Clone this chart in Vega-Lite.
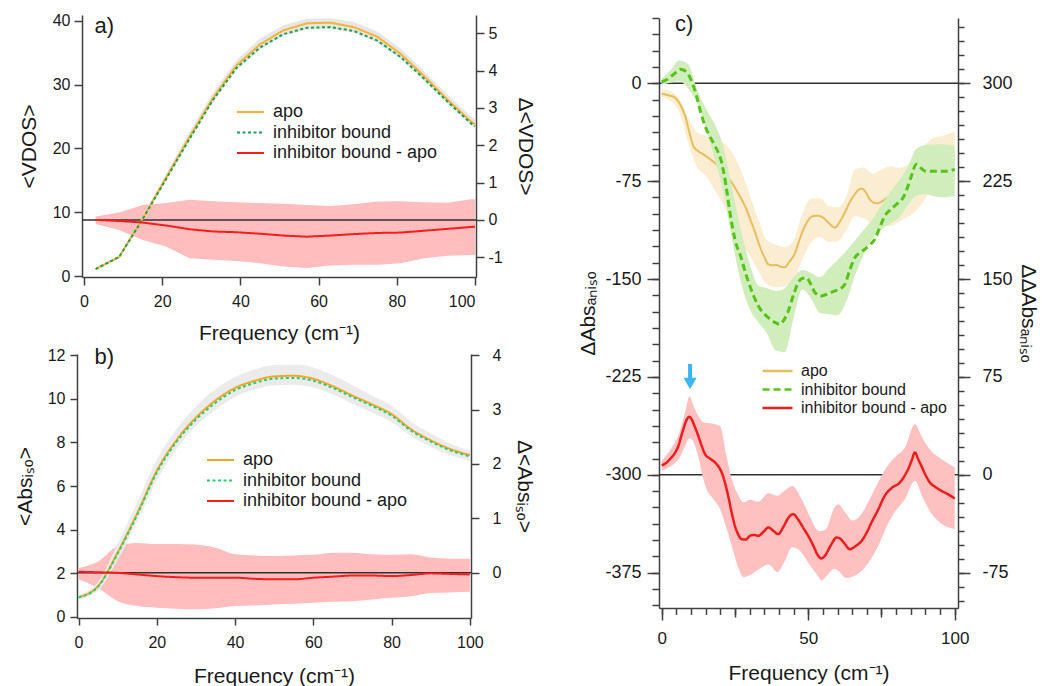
{
"$schema": "https://vega.github.io/schema/vega-lite/v6.json",
"padding": {"left": 14, "top": 12, "right": 4, "bottom": 0},
"spacing": 41,
"config": {
  "font": "Liberation Sans",
  "view": {"stroke": null},
  "locale": {"number": {"decimal": ".", "thousands": ",", "grouping": [3], "currency": ["$", ""], "minus": "-"}},
  "axis": {"domainColor": "#404040", "domainWidth": 1.5, "tickColor": "#404040", "tickWidth": 1.5, "labelColor": "#1a1a1a", "titleColor": "#1a1a1a", "titleFontWeight": "normal", "grid": false, "labelFont": "Liberation Sans", "titleFont": "Liberation Sans"},
  "legend": {"labelFont": "Liberation Sans", "labelColor": "#1a1a1a", "labelLimit": 400}
},
"datasets": {
  "a_lines": [
    {"series":"apo","x":3,"y":1.1},{"series":"apo","x":9,"y":3.0},{"series":"apo","x":15,"y":9.0},{"series":"apo","x":21,"y":15.4},{"series":"apo","x":27,"y":21.8},{"series":"apo","x":33,"y":27.9},{"series":"apo","x":39,"y":33.0},{"series":"apo","x":45,"y":36.3},{"series":"apo","x":51,"y":38.5},{"series":"apo","x":57,"y":39.6},{"series":"apo","x":63,"y":39.7},{"series":"apo","x":69,"y":39.0},{"series":"apo","x":75,"y":37.5},{"series":"apo","x":81,"y":34.8},{"series":"apo","x":87,"y":31.3},{"series":"apo","x":93,"y":27.6},{"series":"apo","x":99,"y":24.2},{"series":"apo","x":100,"y":23.8},
    {"series":"inhibitor bound","x":3,"y":1.1},{"series":"inhibitor bound","x":9,"y":3.0},{"series":"inhibitor bound","x":15,"y":8.9},{"series":"inhibitor bound","x":21,"y":15.2},{"series":"inhibitor bound","x":27,"y":21.5},{"series":"inhibitor bound","x":33,"y":27.6},{"series":"inhibitor bound","x":39,"y":32.6},{"series":"inhibitor bound","x":45,"y":35.8},{"series":"inhibitor bound","x":51,"y":37.9},{"series":"inhibitor bound","x":57,"y":38.9},{"series":"inhibitor bound","x":63,"y":39.0},{"series":"inhibitor bound","x":69,"y":38.4},{"series":"inhibitor bound","x":75,"y":36.9},{"series":"inhibitor bound","x":81,"y":34.3},{"series":"inhibitor bound","x":87,"y":30.9},{"series":"inhibitor bound","x":93,"y":27.3},{"series":"inhibitor bound","x":99,"y":23.9},{"series":"inhibitor bound","x":100,"y":23.5}
  ],
  "a_band": [
    {"x":3,"lo":0.95,"hi":1.25},{"x":9,"lo":2.8,"hi":3.2},{"x":15,"lo":8.6,"hi":9.4},{"x":21,"lo":14.9,"hi":16.0},{"x":27,"lo":21.2,"hi":22.6},{"x":33,"lo":27.2,"hi":28.7},{"x":39,"lo":32.3,"hi":33.8},{"x":45,"lo":35.5,"hi":37.2},{"x":51,"lo":37.6,"hi":39.3},{"x":57,"lo":38.6,"hi":40.3},{"x":63,"lo":38.7,"hi":40.4},{"x":69,"lo":38.1,"hi":39.8},{"x":75,"lo":36.6,"hi":38.3},{"x":81,"lo":34.0,"hi":35.6},{"x":87,"lo":30.6,"hi":32.1},{"x":93,"lo":27.0,"hi":28.4},{"x":99,"lo":23.6,"hi":25.0},{"x":100,"lo":23.2,"hi":24.6}
  ],
  "a_diff": [
    {"series":"inhibitor bound - apo","x":3,"y":0.0,"lo":-0.11,"hi":0.09},{"series":"inhibitor bound - apo","x":9,"y":-0.03,"lo":-0.27,"hi":0.2},{"series":"inhibitor bound - apo","x":15,"y":-0.07,"lo":-0.54,"hi":0.4},{"series":"inhibitor bound - apo","x":21,"y":-0.15,"lo":-0.71,"hi":0.45},{"series":"inhibitor bound - apo","x":27,"y":-0.25,"lo":-1.03,"hi":0.54},{"series":"inhibitor bound - apo","x":33,"y":-0.31,"lo":-1.07,"hi":0.5},{"series":"inhibitor bound - apo","x":39,"y":-0.33,"lo":-1.1,"hi":0.47},{"series":"inhibitor bound - apo","x":45,"y":-0.37,"lo":-1.16,"hi":0.45},{"series":"inhibitor bound - apo","x":51,"y":-0.42,"lo":-1.25,"hi":0.43},{"series":"inhibitor bound - apo","x":57,"y":-0.45,"lo":-1.29,"hi":0.4},{"series":"inhibitor bound - apo","x":63,"y":-0.42,"lo":-1.22,"hi":0.37},{"series":"inhibitor bound - apo","x":69,"y":-0.38,"lo":-1.2,"hi":0.42},{"series":"inhibitor bound - apo","x":75,"y":-0.35,"lo":-1.2,"hi":0.49},{"series":"inhibitor bound - apo","x":81,"y":-0.34,"lo":-1.16,"hi":0.5},{"series":"inhibitor bound - apo","x":87,"y":-0.29,"lo":-1.03,"hi":0.47},{"series":"inhibitor bound - apo","x":93,"y":-0.24,"lo":-0.96,"hi":0.46},{"series":"inhibitor bound - apo","x":99,"y":-0.19,"lo":-0.94,"hi":0.55},{"series":"inhibitor bound - apo","x":100,"y":-0.18,"lo":-0.94,"hi":0.55}
  ],
  "b_lines": [
    {"series":"apo","x":0,"y":0.90},{"series":"apo","x":5,"y":1.41},{"series":"apo","x":10,"y":2.95},{"series":"apo","x":15,"y":4.75},{"series":"apo","x":20,"y":6.70},{"series":"apo","x":25,"y":8.10},{"series":"apo","x":30,"y":9.14},{"series":"apo","x":35,"y":9.93},{"series":"apo","x":40,"y":10.50},{"series":"apo","x":45,"y":10.83},{"series":"apo","x":50,"y":11.03},{"series":"apo","x":55,"y":11.06},{"series":"apo","x":60,"y":10.92},{"series":"apo","x":65,"y":10.58},{"series":"apo","x":70,"y":10.15},{"series":"apo","x":75,"y":9.75},{"series":"apo","x":80,"y":9.30},{"series":"apo","x":85,"y":8.60},{"series":"apo","x":90,"y":8.10},{"series":"apo","x":95,"y":7.70},{"series":"apo","x":100,"y":7.42},
    {"series":"inhibitor bound","x":0,"y":0.88},{"series":"inhibitor bound","x":5,"y":1.38},{"series":"inhibitor bound","x":10,"y":2.90},{"series":"inhibitor bound","x":15,"y":4.68},{"series":"inhibitor bound","x":20,"y":6.62},{"series":"inhibitor bound","x":25,"y":8.02},{"series":"inhibitor bound","x":30,"y":9.05},{"series":"inhibitor bound","x":35,"y":9.82},{"series":"inhibitor bound","x":40,"y":10.40},{"series":"inhibitor bound","x":45,"y":10.73},{"series":"inhibitor bound","x":50,"y":10.93},{"series":"inhibitor bound","x":55,"y":10.96},{"series":"inhibitor bound","x":60,"y":10.83},{"series":"inhibitor bound","x":65,"y":10.50},{"series":"inhibitor bound","x":70,"y":10.08},{"series":"inhibitor bound","x":75,"y":9.68},{"series":"inhibitor bound","x":80,"y":9.23},{"series":"inhibitor bound","x":85,"y":8.54},{"series":"inhibitor bound","x":90,"y":8.04},{"series":"inhibitor bound","x":95,"y":7.64},{"series":"inhibitor bound","x":100,"y":7.36}
  ],
  "b_band": [
    {"x":0,"lo":0.78,"hi":1.0},{"x":5,"lo":1.2,"hi":1.6},{"x":10,"lo":2.6,"hi":3.35},{"x":15,"lo":4.35,"hi":5.25},{"x":20,"lo":6.25,"hi":7.2},{"x":25,"lo":7.7,"hi":8.6},{"x":30,"lo":8.75,"hi":9.65},{"x":35,"lo":9.5,"hi":10.45},{"x":40,"lo":10.1,"hi":11.0},{"x":45,"lo":10.43,"hi":11.35},{"x":50,"lo":10.62,"hi":11.55},{"x":55,"lo":10.65,"hi":11.58},{"x":60,"lo":10.52,"hi":11.44},{"x":65,"lo":10.2,"hi":11.08},{"x":70,"lo":9.78,"hi":10.62},{"x":75,"lo":9.38,"hi":10.15},{"x":80,"lo":8.95,"hi":9.68},{"x":85,"lo":8.28,"hi":8.95},{"x":90,"lo":7.8,"hi":8.42},{"x":95,"lo":7.42,"hi":7.95},{"x":100,"lo":7.15,"hi":7.62}
  ],
  "b_diff": [
    {"series":"inhibitor bound - apo","x":0,"y":0.02,"lo":-0.12,"hi":0.09},{"series":"inhibitor bound - apo","x":5,"y":0.01,"lo":-0.28,"hi":0.21},{"series":"inhibitor bound - apo","x":10,"y":0.0,"lo":-0.52,"hi":0.49},{"series":"inhibitor bound - apo","x":15,"y":-0.03,"lo":-0.61,"hi":0.55},{"series":"inhibitor bound - apo","x":20,"y":-0.06,"lo":-0.64,"hi":0.53},{"series":"inhibitor bound - apo","x":25,"y":-0.08,"lo":-0.66,"hi":0.53},{"series":"inhibitor bound - apo","x":30,"y":-0.09,"lo":-0.67,"hi":0.52},{"series":"inhibitor bound - apo","x":35,"y":-0.09,"lo":-0.65,"hi":0.46},{"series":"inhibitor bound - apo","x":40,"y":-0.09,"lo":-0.61,"hi":0.34},{"series":"inhibitor bound - apo","x":45,"y":-0.11,"lo":-0.6,"hi":0.32},{"series":"inhibitor bound - apo","x":50,"y":-0.12,"lo":-0.58,"hi":0.31},{"series":"inhibitor bound - apo","x":55,"y":-0.12,"lo":-0.57,"hi":0.32},{"series":"inhibitor bound - apo","x":60,"y":-0.09,"lo":-0.55,"hi":0.33},{"series":"inhibitor bound - apo","x":65,"y":-0.07,"lo":-0.53,"hi":0.37},{"series":"inhibitor bound - apo","x":70,"y":-0.05,"lo":-0.52,"hi":0.37},{"series":"inhibitor bound - apo","x":75,"y":-0.05,"lo":-0.49,"hi":0.34},{"series":"inhibitor bound - apo","x":80,"y":-0.06,"lo":-0.46,"hi":0.33},{"series":"inhibitor bound - apo","x":85,"y":-0.04,"lo":-0.43,"hi":0.34},{"series":"inhibitor bound - apo","x":90,"y":-0.01,"lo":-0.37,"hi":0.28},{"series":"inhibitor bound - apo","x":95,"y":-0.02,"lo":-0.36,"hi":0.26},{"series":"inhibitor bound - apo","x":100,"y":-0.03,"lo":-0.35,"hi":0.26}
  ],
  "c_apo": [
    {"series":"apo","x":0,"y":-8},{"series":"apo","x":2,"y":-9},{"series":"apo","x":4.5,"y":-11},{"series":"apo","x":6.5,"y":-17},{"series":"apo","x":8,"y":-25},{"series":"apo","x":9.5,"y":-38},{"series":"apo","x":10.8,"y":-48},{"series":"apo","x":12.5,"y":-52},{"series":"apo","x":14.2,"y":-54.4},{"series":"apo","x":17,"y":-59},{"series":"apo","x":19.3,"y":-63.3},{"series":"apo","x":21.5,"y":-69},{"series":"apo","x":23.9,"y":-76},{"series":"apo","x":25.5,"y":-82},{"series":"apo","x":27.3,"y":-89},{"series":"apo","x":29,"y":-97},{"series":"apo","x":30.7,"y":-107},{"series":"apo","x":32,"y":-115},{"series":"apo","x":33.5,"y":-125},{"series":"apo","x":35,"y":-133},{"series":"apo","x":36.4,"y":-138.7},{"series":"apo","x":38,"y":-139.5},{"series":"apo","x":39.2,"y":-139.2},{"series":"apo","x":40.6,"y":-140.5},{"series":"apo","x":42,"y":-141},{"series":"apo","x":43.5,"y":-137},{"series":"apo","x":45.5,"y":-130},{"series":"apo","x":47,"y":-120},{"series":"apo","x":48.9,"y":-109.3},{"series":"apo","x":50.3,"y":-104},{"series":"apo","x":51.7,"y":-101.7},{"series":"apo","x":53.5,"y":-101.5},{"series":"apo","x":55.1,"y":-103},{"series":"apo","x":57,"y":-107},{"series":"apo","x":59.1,"y":-110.6},{"series":"apo","x":60.8,"y":-106},{"series":"apo","x":62.5,"y":-99},{"series":"apo","x":64.2,"y":-91},{"series":"apo","x":65.9,"y":-85},{"series":"apo","x":67,"y":-82},{"series":"apo","x":68.2,"y":-80.7},{"series":"apo","x":69.5,"y":-83},{"series":"apo","x":71,"y":-88.9},{"series":"apo","x":73.3,"y":-92},{"series":"apo","x":75.5,"y":-90},{"series":"apo","x":77.8,"y":-86.3},{"series":"apo","x":80,"y":-85},{"series":"apo","x":82.4,"y":-85},{"series":"apo","x":85,"y":-82},{"series":"apo","x":87.5,"y":-77},{"series":"apo","x":90,"y":-70},{"series":"apo","x":95,"y":-62},{"series":"apo","x":100,"y":-58}
  ],
  "c_inh": [
    {"series":"inhibitor bound","x":0,"y":1},{"series":"inhibitor bound","x":1.5,"y":2.5},{"series":"inhibitor bound","x":3.4,"y":5.6},{"series":"inhibitor bound","x":5,"y":8.5},{"series":"inhibitor bound","x":6.25,"y":10.7},{"series":"inhibitor bound","x":7.5,"y":10},{"series":"inhibitor bound","x":9.1,"y":6.9},{"series":"inhibitor bound","x":10.5,"y":0},{"series":"inhibitor bound","x":11.9,"y":-9.7},{"series":"inhibitor bound","x":13.3,"y":-22},{"series":"inhibitor bound","x":14.8,"y":-32.7},{"series":"inhibitor bound","x":16.5,"y":-41},{"series":"inhibitor bound","x":18.2,"y":-48},{"series":"inhibitor bound","x":19.5,"y":-54},{"series":"inhibitor bound","x":20.5,"y":-61},{"series":"inhibitor bound","x":22,"y":-79},{"series":"inhibitor bound","x":23.3,"y":-99},{"series":"inhibitor bound","x":25,"y":-119.5},{"series":"inhibitor bound","x":27.3,"y":-134.9},{"series":"inhibitor bound","x":28.7,"y":-146},{"series":"inhibitor bound","x":30.1,"y":-155.3},{"series":"inhibitor bound","x":33,"y":-170.6},{"series":"inhibitor bound","x":36.4,"y":-179.6},{"series":"inhibitor bound","x":38.5,"y":-183},{"series":"inhibitor bound","x":40.3,"y":-184.7},{"series":"inhibitor bound","x":41.8,"y":-181},{"series":"inhibitor bound","x":43.2,"y":-174.5},{"series":"inhibitor bound","x":45,"y":-162},{"series":"inhibitor bound","x":46.6,"y":-152.7},{"series":"inhibitor bound","x":48,"y":-149.5},{"series":"inhibitor bound","x":49.4,"y":-149},{"series":"inhibitor bound","x":51,"y":-154.5},{"series":"inhibitor bound","x":52.3,"y":-160.4},{"series":"inhibitor bound","x":54.5,"y":-163},{"series":"inhibitor bound","x":57,"y":-161},{"series":"inhibitor bound","x":59.1,"y":-159.1},{"series":"inhibitor bound","x":61,"y":-157.5},{"series":"inhibitor bound","x":62.5,"y":-154},{"series":"inhibitor bound","x":64.2,"y":-143},{"series":"inhibitor bound","x":65.9,"y":-133.6},{"series":"inhibitor bound","x":67.5,"y":-130},{"series":"inhibitor bound","x":69.3,"y":-127.2},{"series":"inhibitor bound","x":71,"y":-124},{"series":"inhibitor bound","x":72.7,"y":-119.5},{"series":"inhibitor bound","x":74.5,"y":-110},{"series":"inhibitor bound","x":76.1,"y":-101.7},{"series":"inhibitor bound","x":78,"y":-97},{"series":"inhibitor bound","x":79.5,"y":-94},{"series":"inhibitor bound","x":81,"y":-91},{"series":"inhibitor bound","x":82.4,"y":-87.6},{"series":"inhibitor bound","x":84,"y":-79},{"series":"inhibitor bound","x":85.2,"y":-71},{"series":"inhibitor bound","x":86.9,"y":-62},{"series":"inhibitor bound","x":88.5,"y":-65},{"series":"inhibitor bound","x":89.8,"y":-67.2},{"series":"inhibitor bound","x":93.2,"y":-67.5},{"series":"inhibitor bound","x":96.6,"y":-67.5},{"series":"inhibitor bound","x":100,"y":-66}
  ],
  "c_diff": [
    {"series":"inhibitor bound - apo","x":0,"y":7.4},{"series":"inhibitor bound - apo","x":1.5,"y":9},{"series":"inhibitor bound - apo","x":2.8,"y":12},{"series":"inhibitor bound - apo","x":4.3,"y":16},{"series":"inhibitor bound - apo","x":5.7,"y":22.2},{"series":"inhibitor bound - apo","x":7,"y":32},{"series":"inhibitor bound - apo","x":8.5,"y":42},{"series":"inhibitor bound - apo","x":9.4,"y":44.5},{"series":"inhibitor bound - apo","x":10.2,"y":42.7},{"series":"inhibitor bound - apo","x":11.3,"y":37},{"series":"inhibitor bound - apo","x":12.5,"y":29.9},{"series":"inhibitor bound - apo","x":13.7,"y":22},{"series":"inhibitor bound - apo","x":14.8,"y":15.9},{"series":"inhibitor bound - apo","x":16.5,"y":12.5},{"series":"inhibitor bound - apo","x":18.2,"y":9.5},{"series":"inhibitor bound - apo","x":19.5,"y":6},{"series":"inhibitor bound - apo","x":20.5,"y":1.8},{"series":"inhibitor bound - apo","x":21.6,"y":-6},{"series":"inhibitor bound - apo","x":22.7,"y":-16.1},{"series":"inhibitor bound - apo","x":23.9,"y":-29},{"series":"inhibitor bound - apo","x":25,"y":-39},{"series":"inhibitor bound - apo","x":26.2,"y":-46},{"series":"inhibitor bound - apo","x":27.3,"y":-49.3},{"series":"inhibitor bound - apo","x":28.7,"y":-49.5},{"series":"inhibitor bound - apo","x":30.1,"y":-46.7},{"series":"inhibitor bound - apo","x":31.5,"y":-46},{"series":"inhibitor bound - apo","x":33,"y":-46.7},{"series":"inhibitor bound - apo","x":34.8,"y":-43.5},{"series":"inhibitor bound - apo","x":36.4,"y":-40.3},{"series":"inhibitor bound - apo","x":38.2,"y":-43},{"series":"inhibitor bound - apo","x":39.8,"y":-45.4},{"series":"inhibitor bound - apo","x":41.5,"y":-40},{"series":"inhibitor bound - apo","x":43.2,"y":-33},{"series":"inhibitor bound - apo","x":44.9,"y":-30.1},{"series":"inhibitor bound - apo","x":46.5,"y":-34},{"series":"inhibitor bound - apo","x":48.3,"y":-40.5},{"series":"inhibitor bound - apo","x":50,"y":-46.7},{"series":"inhibitor bound - apo","x":51.7,"y":-54},{"series":"inhibitor bound - apo","x":53.4,"y":-62},{"series":"inhibitor bound - apo","x":54.5,"y":-64},{"series":"inhibitor bound - apo","x":55.7,"y":-62},{"series":"inhibitor bound - apo","x":57.7,"y":-54},{"series":"inhibitor bound - apo","x":59.7,"y":-48},{"series":"inhibitor bound - apo","x":61,"y":-49},{"series":"inhibitor bound - apo","x":62.5,"y":-53},{"series":"inhibitor bound - apo","x":64.2,"y":-56.9},{"series":"inhibitor bound - apo","x":66.2,"y":-54.5},{"series":"inhibitor bound - apo","x":68.2,"y":-50.6},{"series":"inhibitor bound - apo","x":70,"y":-44},{"series":"inhibitor bound - apo","x":71.6,"y":-36.5},{"series":"inhibitor bound - apo","x":74,"y":-26},{"series":"inhibitor bound - apo","x":76.1,"y":-16.1},{"series":"inhibitor bound - apo","x":78.5,"y":-10},{"series":"inhibitor bound - apo","x":81.3,"y":-5.8},{"series":"inhibitor bound - apo","x":82.8,"y":-1},{"series":"inhibitor bound - apo","x":84.1,"y":4.4},{"series":"inhibitor bound - apo","x":85.3,"y":11},{"series":"inhibitor bound - apo","x":86.4,"y":17.2},{"series":"inhibitor bound - apo","x":87.5,"y":12},{"series":"inhibitor bound - apo","x":88.6,"y":6.9},{"series":"inhibitor bound - apo","x":90,"y":0},{"series":"inhibitor bound - apo","x":91.5,"y":-5.8},{"series":"inhibitor bound - apo","x":93.5,"y":-9.5},{"series":"inhibitor bound - apo","x":95.5,"y":-12.3},{"series":"inhibitor bound - apo","x":97.8,"y":-15},{"series":"inhibitor bound - apo","x":100,"y":-18.1}
  ],
  "c_apoband": [
    {"x":0,"lo":-10.8,"hi":-4.5},{"x":3,"lo":-13.5,"hi":-5.9},{"x":6,"lo":-22,"hi":-12},{"x":9,"lo":-45,"hi":-26},{"x":12,"lo":-64,"hi":-37.5},{"x":15,"lo":-70.7,"hi":-40.2},{"x":18,"lo":-81.5,"hi":-42.5},{"x":21,"lo":-92.5,"hi":-45.5},{"x":24,"lo":-107.5,"hi":-53},{"x":27,"lo":-122.5,"hi":-66.5},{"x":30,"lo":-131.5,"hi":-85},{"x":33,"lo":-144,"hi":-104.5},{"x":36,"lo":-154.2,"hi":-120.4},{"x":39,"lo":-156.3,"hi":-123.7},{"x":42,"lo":-155.3,"hi":-125.3},{"x":45,"lo":-151,"hi":-120.5},{"x":48,"lo":-135,"hi":-100},{"x":51,"lo":-122,"hi":-88.5},{"x":54,"lo":-118,"hi":-88},{"x":57,"lo":-121.5,"hi":-94},{"x":60,"lo":-121,"hi":-95},{"x":63,"lo":-112.5,"hi":-87},{"x":66,"lo":-101.6,"hi":-65.8},{"x":69,"lo":-103.5,"hi":-64.6},{"x":72,"lo":-108,"hi":-69.3},{"x":75,"lo":-109.3,"hi":-66},{"x":78,"lo":-109.3,"hi":-63.6},{"x":81,"lo":-106,"hi":-64.8},{"x":84,"lo":-102.3,"hi":-62.5},{"x":87,"lo":-97.4,"hi":-52.3},{"x":90,"lo":-88.5,"hi":-46.6},{"x":93,"lo":-79,"hi":-41.3},{"x":96,"lo":-78.7,"hi":-40.2},{"x":100,"lo":-73.6,"hi":-36.5}
  ],
  "c_inhband": [
    {"x":0,"lo":-1.5,"hi":3.5},{"x":3,"lo":0.3,"hi":10},{"x":6,"lo":1.5,"hi":17.5},{"x":9,"lo":-4,"hi":14.8},{"x":12,"lo":-15,"hi":-4},{"x":15,"lo":-34,"hi":-19},{"x":18,"lo":-57,"hi":-31},{"x":21,"lo":-83,"hi":-48},{"x":24,"lo":-119.5,"hi":-80},{"x":27,"lo":-152,"hi":-112},{"x":30,"lo":-173,"hi":-138},{"x":33,"lo":-183,"hi":-155},{"x":36,"lo":-192,"hi":-157},{"x":39,"lo":-205,"hi":-159},{"x":42,"lo":-206,"hi":-157},{"x":45,"lo":-180,"hi":-148.7},{"x":48,"lo":-158,"hi":-143},{"x":51,"lo":-165,"hi":-145.3},{"x":54,"lo":-176,"hi":-148.7},{"x":57,"lo":-177,"hi":-142},{"x":60,"lo":-177.8,"hi":-135.5},{"x":63,"lo":-167,"hi":-128.5},{"x":66,"lo":-147,"hi":-120.3},{"x":69,"lo":-131,"hi":-112},{"x":72,"lo":-118.5,"hi":-103.7},{"x":75,"lo":-112,"hi":-93},{"x":78,"lo":-107.4,"hi":-83.3},{"x":81,"lo":-103,"hi":-74.5},{"x":84,"lo":-93.5,"hi":-63.8},{"x":87,"lo":-86,"hi":-50},{"x":90,"lo":-85,"hi":-47.3},{"x":93,"lo":-86.6,"hi":-46.7},{"x":96,"lo":-87.4,"hi":-46.7},{"x":100,"lo":-86.3,"hi":-48}
  ],
  "c_diffband": [
    {"x":0,"lo":3.1,"hi":10.7},{"x":3,"lo":6.5,"hi":19.5},{"x":6,"lo":13,"hi":32},{"x":8,"lo":22,"hi":48},{"x":9.5,"lo":28,"hi":60},{"x":11,"lo":24.5,"hi":52},{"x":12.5,"lo":14,"hi":45.2},{"x":14,"lo":-1,"hi":40.5},{"x":15,"lo":-9,"hi":40},{"x":18,"lo":-19.5,"hi":39},{"x":20,"lo":-26.5,"hi":37},{"x":22,"lo":-40,"hi":16},{"x":24,"lo":-55,"hi":-4},{"x":26,"lo":-70,"hi":-15},{"x":28,"lo":-78.3,"hi":-21},{"x":30,"lo":-77,"hi":-19},{"x":33,"lo":-72.5,"hi":-20.5},{"x":36.5,"lo":-68.7,"hi":-14},{"x":39.5,"lo":-74.5,"hi":-16},{"x":42,"lo":-66,"hi":-12},{"x":44.5,"lo":-55.5,"hi":-8.5},{"x":47.5,"lo":-59,"hi":-17.5},{"x":50,"lo":-67.2,"hi":-29},{"x":53.5,"lo":-78,"hi":-42.8},{"x":54.5,"lo":-81,"hi":-43},{"x":56,"lo":-78,"hi":-41.7},{"x":59,"lo":-72,"hi":-25},{"x":60.2,"lo":-73.5,"hi":-22.5},{"x":63,"lo":-79,"hi":-30},{"x":65,"lo":-78,"hi":-35},{"x":68,"lo":-74,"hi":-30.5},{"x":71,"lo":-66,"hi":-18.5},{"x":74,"lo":-54,"hi":-5},{"x":77,"lo":-38.5,"hi":6.8},{"x":80,"lo":-27,"hi":14.5},{"x":83,"lo":-18.6,"hi":21},{"x":86.4,"lo":-4.6,"hi":38.8},{"x":89,"lo":-17,"hi":28},{"x":92,"lo":-29.5,"hi":18},{"x":95,"lo":-36.6,"hi":12.8},{"x":100,"lo":-41.6,"hi":5.7}
  ]
},
"resolve": {"scale": {"color": "independent", "strokeDash": "independent"}},
"hconcat": [
  {
    "spacing": 2,
    "resolve": {"scale": {"color": "independent", "strokeDash": "independent"}},
    "vconcat": [
      {
        "width": 399, "height": 262,
        "resolve": {"scale": {"y": "independent"}, "axis": {"x": "independent"}},
        "layer": [
          {"data": {"name": "a_diff"}, "mark": {"type": "area", "color": "#FFBDBD", "opacity": 1},
           "encoding": {
             "x": {"field": "x", "type": "quantitative", "scale": {"domain": [-0.5, 100.25], "range": [5, 399], "nice": false, "zero": false},
                   "axis": {"orient": "bottom", "values": [0,20,40,60,80,100], "tickSize": 8, "labelFontSize": 16, "labelPadding": 8, "title": "Frequency (cm⁻¹)", "titleFontSize": 21, "titlePadding": 13}},
             "y": {"field": "lo", "type": "quantitative", "scale": {"domain": [-1.53, 5.49], "nice": false, "zero": false},
                   "axis": {"orient": "right", "values": [-1,0,1,2,3,4,5], "tickSize": 8, "labelFontSize": 16, "labelPadding": 4, "title": "Δ<VDOS>", "titleFontSize": 21, "titlePadding": 12}},
             "y2": {"field": "hi"}}},
          {"data": {"name": "a_band"}, "mark": {"type": "area", "color": "#E6E6E6"},
           "encoding": {
             "x": {"field": "x", "type": "quantitative", "scale": {"domain": [-0.5, 100.25], "range": [5, 399], "nice": false, "zero": false}, "axis": null},
             "y": {"field": "lo", "type": "quantitative", "scale": {"domain": [-0.15, 40.9], "nice": false, "zero": false},
                   "axis": {"orient": "left", "offset": -5, "values": [0,10,20,30,40], "tickSize": 8, "labelFontSize": 16, "labelPadding": 4, "title": "<VDOS>", "titleFontSize": 21, "titlePadding": 13}},
             "y2": {"field": "hi"}}},
          {"data": {"values": [{"zero": 0}]}, "mark": {"type": "rule", "color": "#303030", "strokeWidth": 1.5},
           "encoding": {
             "x": {"datum": -0.5, "type": "quantitative", "scale": {"domain": [-0.5, 100.25], "range": [5, 399], "nice": false, "zero": false}, "axis": null},
             "x2": {"datum": 100.25},
             "y": {"field": "zero", "type": "quantitative", "scale": {"domain": [-1.53, 5.49], "nice": false, "zero": false}, "axis": null}}},
          {"data": {"name": "a_lines"}, "mark": {"type": "line", "strokeWidth": 2},
           "encoding": {
             "x": {"field": "x", "type": "quantitative", "scale": {"domain": [-0.5, 100.25], "range": [5, 399], "nice": false, "zero": false}, "axis": null},
             "y": {"field": "y", "type": "quantitative", "scale": {"domain": [-0.15, 40.9], "nice": false, "zero": false}, "axis": null},
             "color": {"field": "series", "type": "nominal", "scale": {"domain": ["apo", "inhibitor bound", "inhibitor bound - apo"], "range": ["#F9B233", "#1E9E50", "#F51C1C"]},
                       "legend": {"title": null, "orient": "none", "legendX": 159, "legendY": 88, "symbolType": "stroke", "symbolSize": 729, "symbolStrokeWidth": 2, "labelFontSize": 18, "labelOffset": 8, "clipHeight": 18, "rowPadding": 2.5, "padding": 0}},
             "strokeDash": {"field": "series", "type": "nominal", "scale": {"domain": ["apo", "inhibitor bound", "inhibitor bound - apo"], "range": [[1,0],[3,2.5],[1,0]]},
                       "legend": {"title": null, "orient": "none", "legendX": 159, "legendY": 88, "symbolType": "stroke", "symbolSize": 729, "symbolStrokeWidth": 2, "labelFontSize": 18, "labelOffset": 8, "clipHeight": 18, "rowPadding": 2.5, "padding": 0}}}},
          {"data": {"name": "a_diff"}, "mark": {"type": "line", "strokeWidth": 2},
           "encoding": {
             "x": {"field": "x", "type": "quantitative", "scale": {"domain": [-0.5, 100.25], "range": [5, 399], "nice": false, "zero": false}, "axis": null},
             "y": {"field": "y", "type": "quantitative", "scale": {"domain": [-1.53, 5.49], "nice": false, "zero": false}, "axis": null},
             "color": {"field": "series", "type": "nominal"},
             "strokeDash": {"field": "series", "type": "nominal"}}},
          {"data": {"values": [{"label": "a)", "x": 2.7, "y": 40.8}]}, "mark": {"type": "text", "fontSize": 22, "align": "left", "baseline": "top", "color": "#1a1a1a"},
           "encoding": {
             "x": {"field": "x", "type": "quantitative", "scale": {"domain": [-0.5, 100.25], "range": [5, 399], "nice": false, "zero": false}, "axis": null},
             "y": {"field": "y", "type": "quantitative", "scale": {"domain": [-0.15, 40.9], "nice": false, "zero": false}, "axis": null},
             "text": {"field": "label"}}}
        ]
      },
      {
        "width": 394, "height": 264,
        "resolve": {"scale": {"y": "independent"}, "axis": {"x": "independent"}},
        "layer": [
          {"data": {"name": "b_diff"}, "mark": {"type": "area", "color": "#FFBDBD", "interpolate": "monotone"},
           "encoding": {
             "x": {"field": "x", "type": "quantitative", "scale": {"domain": [-0.4, 100.3], "nice": false, "zero": false},
                   "axis": {"orient": "bottom", "values": [0,20,40,60,80,100], "tickSize": 7, "labelFontSize": 16, "labelPadding": 9, "title": "Frequency (cm⁻¹)", "titleFontSize": 21, "titlePadding": 15}},
             "y": {"field": "lo", "type": "quantitative", "scale": {"domain": [-0.83, 4.02], "nice": false, "zero": false},
                   "axis": {"orient": "right", "values": [0,1,2,3,4], "tickSize": 8, "labelFontSize": 16, "labelPadding": 13, "title": "Δ<Absᵢₛₒ>", "titleFontSize": 21, "titlePadding": 13}},
             "y2": {"field": "hi"}}},
          {"data": {"name": "b_band"}, "mark": {"type": "area", "color": "#EBEBEB", "interpolate": "monotone"},
           "encoding": {
             "x": {"field": "x", "type": "quantitative", "scale": {"domain": [-0.4, 100.3], "nice": false, "zero": false}, "axis": null},
             "y": {"field": "lo", "type": "quantitative", "scale": {"domain": [-0.06, 12.06], "nice": false, "zero": false},
                   "axis": {"orient": "left", "values": [0,2,4,6,8,10,12], "tickSize": 7, "labelFontSize": 16, "labelPadding": 5, "title": "<Absᵢₛₒ>", "titleFontSize": 21, "titlePadding": 12}},
             "y2": {"field": "hi"}}},
          {"data": {"values": [{"zero": 0}]}, "mark": {"type": "rule", "color": "#303030", "strokeWidth": 1.5},
           "encoding": {
             "x": {"datum": -0.4, "type": "quantitative", "scale": {"domain": [-0.4, 100.3], "nice": false, "zero": false}, "axis": null},
             "x2": {"datum": 100.3},
             "y": {"field": "zero", "type": "quantitative", "scale": {"domain": [-0.83, 4.02], "nice": false, "zero": false}, "axis": null}}},
          {"data": {"name": "b_lines"}, "mark": {"type": "line", "strokeWidth": 2, "interpolate": "monotone"},
           "encoding": {
             "x": {"field": "x", "type": "quantitative", "scale": {"domain": [-0.4, 100.3], "nice": false, "zero": false}, "axis": null},
             "y": {"field": "y", "type": "quantitative", "scale": {"domain": [-0.06, 12.06], "nice": false, "zero": false}, "axis": null},
             "color": {"field": "series", "type": "nominal", "scale": {"domain": ["apo", "inhibitor bound", "inhibitor bound - apo"], "range": ["#F5A623", "#2BCB78", "#F51C1C"]},
                       "legend": {"title": null, "orient": "none", "legendX": 129, "legendY": 97, "symbolType": "stroke", "symbolSize": 729, "symbolStrokeWidth": 2, "labelFontSize": 18, "labelOffset": 8, "clipHeight": 18, "rowPadding": 2.5, "padding": 0}},
             "strokeDash": {"field": "series", "type": "nominal", "scale": {"domain": ["apo", "inhibitor bound", "inhibitor bound - apo"], "range": [[1,0],[3,2.5],[1,0]]},
                       "legend": {"title": null, "orient": "none", "legendX": 129, "legendY": 97, "symbolType": "stroke", "symbolSize": 729, "symbolStrokeWidth": 2, "labelFontSize": 18, "labelOffset": 8, "clipHeight": 18, "rowPadding": 2.5, "padding": 0}}}},
          {"data": {"name": "b_diff"}, "mark": {"type": "line", "strokeWidth": 2, "interpolate": "monotone"},
           "encoding": {
             "x": {"field": "x", "type": "quantitative", "scale": {"domain": [-0.4, 100.3], "nice": false, "zero": false}, "axis": null},
             "y": {"field": "y", "type": "quantitative", "scale": {"domain": [-0.83, 4.02], "nice": false, "zero": false}, "axis": null},
             "color": {"field": "series", "type": "nominal"},
             "strokeDash": {"field": "series", "type": "nominal"}}},
          {"data": {"values": [{"label": "b)", "x": 4.1, "y": 12.4}]}, "mark": {"type": "text", "fontSize": 22, "align": "left", "baseline": "top", "color": "#1a1a1a"},
           "encoding": {
             "x": {"field": "x", "type": "quantitative", "scale": {"domain": [-0.4, 100.3], "nice": false, "zero": false}, "axis": null},
             "y": {"field": "y", "type": "quantitative", "scale": {"domain": [-0.06, 12.06], "nice": false, "zero": false}, "axis": null},
             "text": {"field": "label"}}}
        ]
      }
    ]
  },
  {
    "width": 299, "height": 593,
    "resolve": {"scale": {"y": "independent"}, "axis": {"x": "independent"}},
    "layer": [
      {"data": {"values": [{"zero": 0}]}, "mark": {"type": "rule", "color": "#303030", "strokeWidth": 1.5},
       "encoding": {
         "x": {"datum": -0.9, "type": "quantitative", "scale": {"domain": [-0.9, 101.1], "nice": false, "zero": false}, "axis": null},
         "x2": {"datum": 101.1},
         "y": {"field": "zero", "type": "quantitative", "scale": {"domain": [-402, 50], "range": [593, 3], "nice": false, "zero": false},
          "axis": {"orient": "left", "values": [-400,-387.5,-375,-362.5,-350,-337.5,-325,-312.5,-300,-287.5,-275,-262.5,-250,-237.5,-225,-212.5,-200,-187.5,-175,-162.5,-150,-137.5,-125,-112.5,-100,-87.5,-75,-62.5,-50,-37.5,-25,-12.5,0,12.5,25,37.5,50], "tickSize": 7, "labels": false, "domain": false, "title": null}}}},
      {"data": {"values": [{"zero": 0}]}, "mark": {"type": "rule", "color": "#303030", "strokeWidth": 1.5},
       "encoding": {
         "x": {"datum": -0.9, "type": "quantitative", "scale": {"domain": [-0.9, 101.1], "nice": false, "zero": false}, "axis": null},
         "x2": {"datum": 101.1},
         "y": {"field": "zero", "type": "quantitative", "scale": {"domain": [-102, 350], "range": [593, 3], "nice": false, "zero": false},
          "axis": {"orient": "right", "values": [-96.43,-85.71,-75,-64.29,-53.57,-42.86,-32.14,-21.43,-10.71,0,10.71,21.43,32.14,42.86,53.57,64.29,75,85.71,96.43,107.14,117.86,128.57,139.29,150,160.71,171.43,182.14,192.86,203.57,214.29,225,235.71,246.43,257.14,267.86,278.57,289.29,300,310.71,321.43,332.14,342.86], "tickSize": 6, "labels": false, "domain": false, "title": null}}}},
      {"data": {"name": "c_apoband"}, "mark": {"type": "area", "color": "#FBEDD2", "interpolate": "monotone"},
       "encoding": {
         "x": {"field": "x", "type": "quantitative", "scale": {"domain": [-0.9, 101.1], "nice": false, "zero": false},
               "axis": {"orient": "bottom", "values": [0,5,10,15,20,25,30,35,40,45,50,55,60,65,70,75,80,85,90,95,100], "tickSize": 6.5, "labels": false, "domain": false, "title": null}},
         "y": {"field": "lo", "type": "quantitative", "scale": {"domain": [-402, 50], "range": [593, 3], "nice": false, "zero": false},
               "axis": {"orient": "left", "values": [-375,-300,-225,-150,-75,0], "tickSize": 12, "labelFontSize": 18, "labelPadding": 6, "title": "ΔAbsₐₙᵢₛₒ", "titleFontSize": 21, "titlePadding": 6}},
         "y2": {"field": "hi"}}},
      {"data": {"name": "c_apo"}, "mark": {"type": "line", "strokeWidth": 2, "interpolate": "monotone"},
       "encoding": {
         "x": {"field": "x", "type": "quantitative", "scale": {"domain": [-0.9, 101.1], "nice": false, "zero": false},
               "axis": {"orient": "bottom", "values": [25,75], "tickSize": 9, "labels": false, "domain": false, "title": null}},
         "y": {"field": "y", "type": "quantitative", "scale": {"domain": [-402, 50], "range": [593, 3], "nice": false, "zero": false}, "axis": null},
         "color": {"field": "series", "type": "nominal", "scale": {"domain": ["apo", "inhibitor bound", "inhibitor bound - apo"], "range": ["#E8BD5C", "#55C31A", "#EE1C1C"]},
                   "legend": {"title": null, "orient": "none", "legendX": 102, "legendY": 348, "symbolType": "stroke", "symbolSize": 900, "symbolStrokeWidth": 2.5, "labelFontSize": 16, "labelOffset": 7, "clipHeight": 16, "rowPadding": 2.5, "padding": 0}},
         "strokeDash": {"field": "series", "type": "nominal", "scale": {"domain": ["apo", "inhibitor bound", "inhibitor bound - apo"], "range": [[1,0],[7,4],[1,0]]},
                   "legend": {"title": null, "orient": "none", "legendX": 102, "legendY": 348, "symbolType": "stroke", "symbolSize": 900, "symbolStrokeWidth": 2.5, "labelFontSize": 16, "labelOffset": 7, "clipHeight": 16, "rowPadding": 2.5, "padding": 0}}}},
      {"data": {"name": "c_inhband"}, "mark": {"type": "area", "color": "#D1EDBC", "interpolate": "monotone"},
       "encoding": {
         "x": {"field": "x", "type": "quantitative", "scale": {"domain": [-0.9, 101.1], "nice": false, "zero": false},
               "axis": {"orient": "bottom", "values": [0,50,100], "tickSize": 12, "labelFontSize": 17, "labelPadding": 10, "title": "Frequency (cm⁻¹)", "titleFontSize": 21, "titlePadding": 16}},
         "y": {"field": "lo", "type": "quantitative", "scale": {"domain": [-402, 50], "range": [593, 3], "nice": false, "zero": false}, "axis": null},
         "y2": {"field": "hi"}}},
      {"data": {"name": "c_inh"}, "mark": {"type": "line", "strokeWidth": 3, "interpolate": "monotone"},
       "encoding": {
         "x": {"field": "x", "type": "quantitative", "scale": {"domain": [-0.9, 101.1], "nice": false, "zero": false}, "axis": null},
         "y": {"field": "y", "type": "quantitative", "scale": {"domain": [-402, 50], "range": [593, 3], "nice": false, "zero": false}, "axis": null},
         "color": {"field": "series", "type": "nominal"},
         "strokeDash": {"field": "series", "type": "nominal"}}},
      {"data": {"name": "c_diffband"}, "mark": {"type": "area", "color": "#FFC0C0", "interpolate": "monotone"},
       "encoding": {
         "x": {"field": "x", "type": "quantitative", "scale": {"domain": [-0.9, 101.1], "nice": false, "zero": false}, "axis": null},
         "y": {"field": "lo", "type": "quantitative", "scale": {"domain": [-102, 350], "range": [593, 3], "nice": false, "zero": false},
               "axis": {"orient": "right", "values": [-75,0,75,150,225,300], "tickSize": 12, "labelFontSize": 18, "labelPadding": 12, "title": "ΔΔAbsₐₙᵢₛₒ", "titleFontSize": 21, "titlePadding": 5}},
         "y2": {"field": "hi"}}},
      {"data": {"name": "c_diff"}, "mark": {"type": "line", "strokeWidth": 2.5, "interpolate": "monotone"},
       "encoding": {
         "x": {"field": "x", "type": "quantitative", "scale": {"domain": [-0.9, 101.1], "nice": false, "zero": false}, "axis": null},
         "y": {"field": "y", "type": "quantitative", "scale": {"domain": [-102, 350], "range": [593, 3], "nice": false, "zero": false}, "axis": null},
         "color": {"field": "series", "type": "nominal"},
         "strokeDash": {"field": "series", "type": "nominal"}}},
      {"data": {"values": [{"x": 9.7, "top": 85, "bottom": 74, "head": 70}]}, "mark": {"type": "rule", "color": "#3DB5F0", "strokeWidth": 4},
       "encoding": {
         "x": {"field": "x", "type": "quantitative", "scale": {"domain": [-0.9, 101.1], "nice": false, "zero": false}, "axis": null},
         "y": {"field": "top", "type": "quantitative", "scale": {"domain": [-102, 350], "range": [593, 3], "nice": false, "zero": false}, "axis": null},
         "y2": {"field": "bottom"}}},
      {"data": {"values": [{"x": 9.7, "top": 85, "bottom": 74, "head": 70}]}, "mark": {"type": "point", "shape": "triangle-down", "filled": true, "size": 170, "color": "#3DB5F0", "opacity": 1},
       "encoding": {
         "x": {"field": "x", "type": "quantitative", "scale": {"domain": [-0.9, 101.1], "nice": false, "zero": false}, "axis": null},
         "y": {"field": "head", "type": "quantitative", "scale": {"domain": [-102, 350], "range": [593, 3], "nice": false, "zero": false}, "axis": null}}},
      {"data": {"values": [{"label": "c)", "x": 4.6, "y": 53.1}]}, "mark": {"type": "text", "fontSize": 22, "align": "left", "baseline": "top", "color": "#1a1a1a"},
       "encoding": {
         "x": {"field": "x", "type": "quantitative", "scale": {"domain": [-0.9, 101.1], "nice": false, "zero": false}, "axis": null},
         "y": {"field": "y", "type": "quantitative", "scale": {"domain": [-402, 50], "range": [593, 3], "nice": false, "zero": false}, "axis": null},
         "text": {"field": "label"}}}
    ]
  }
]
}
